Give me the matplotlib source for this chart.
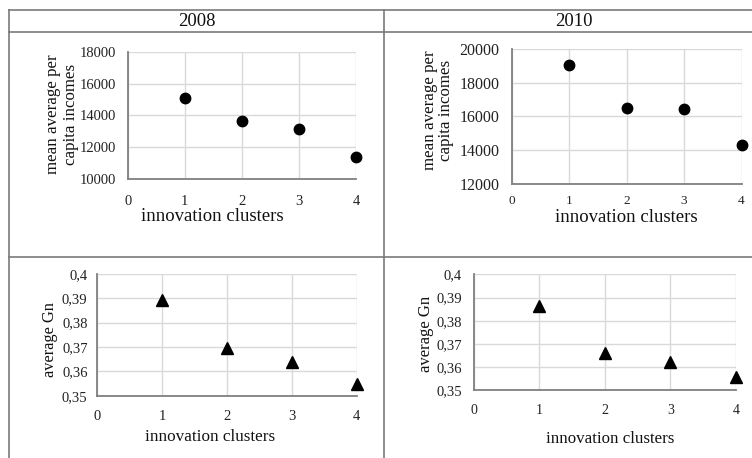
import matplotlib
matplotlib.use("Agg")
import matplotlib.pyplot as plt
from matplotlib.lines import Line2D

# data
clusters = [1, 2, 3, 4]
income_2008 = [15080, 13650, 13120, 11360]
income_2010 = [19050, 16500, 16460, 14310]
gini_2008 = [0.3892, 0.3694, 0.3637, 0.3549]
gini_2010 = [0.3862, 0.3662, 0.3620, 0.3559]
years = ["2008", "2010"]
x_ticks = [0, 1, 2, 3, 4]
income_ticks_2008 = [10000, 12000, 14000, 16000, 18000]
income_ticks_2010 = [12000, 14000, 16000, 18000, 20000]
gini_ticks = [0.35, 0.36, 0.37, 0.38, 0.39, 0.40]
gini_tick_labels = ["0,35", "0,36", "0,37", "0,38", "0,39", "0,4"]

W, H = 752, 458
plt.rcParams['font.family'] = ['Liberation Serif', 'DejaVu Serif']
fig = plt.figure(figsize=(W / 100, H / 100), dpi=100)
fig.patch.set_facecolor('white')

GRID = '#d9d9d9'
SPINE = '#808080'
TABLE = '#7a7a7a'


def fx(x):
    return x / W


def fy(y):
    return 1 - y / H


def panel(left, right, top, bottom):
    return fig.add_axes([fx(left), fy(bottom), fx(right - left), (bottom - top) / H])


def style(ax, ylim, yticks, ylabels, fs_y, fs_x, pad_y, pad_x):
    ax.set_xlim(0, 4)
    ax.set_ylim(*ylim)
    ax.set_xticks(x_ticks)
    ax.set_yticks(yticks)
    ax.set_yticklabels(ylabels)
    ax.grid(True, color=GRID, lw=1.0)
    ax.set_axisbelow(True)
    for s in ['top', 'right']:
        ax.spines[s].set_visible(False)
    for s in ['left', 'bottom']:
        ax.spines[s].set_color(SPINE)
        ax.spines[s].set_linewidth(1.3)
    ax.tick_params(axis='y', length=0, labelsize=fs_y, pad=pad_y, colors='#222222')
    ax.tick_params(axis='x', length=0, labelsize=fs_x, pad=pad_x, colors='#222222')


def label(x, y, s, size, rot=0, ls=1.2):
    fig.text(fx(x), fy(y), s, ha='center', va='center', rotation=rot,
             fontsize=size, linespacing=ls, color='#111111')


# table lines
for (x0, y0, x1, y1) in [(9, 10, 752, 10), (9, 32, 752, 32), (9, 256.7, 752, 256.7),
                         (9, 10, 9, 458), (384.3, 10, 384.3, 458)]:
    fig.add_artist(Line2D([fx(x0), fx(x1)], [fy(y0), fy(y1)], color=TABLE, lw=1.2))

label(197, 21, years[0], 13.5)
label(574, 21, years[1], 13.5)

# 2008 income
ax1 = panel(127.7, 356, 52.3, 178.5)
style(ax1, (10000, 18000), income_ticks_2008, [str(v) for v in income_ticks_2008], 10.5, 10.5, 8, 12)
ax1.plot(clusters, income_2008, 'o', color='black', ms=7.5, clip_on=False)
label(62, 114.5, "mean average per\ncapita incomes", 12.2, 90, 1.15)
label(212.5, 217, "innovation clusters", 13.5)

# 2010 income
ax2 = panel(511.7, 741.5, 49, 183.5)
style(ax2, (12000, 20000), income_ticks_2010, [str(v) for v in income_ticks_2010], 11.5, 9.5, 9, 8)
ax2.plot(clusters, income_2010, 'o', color='black', ms=7.5, clip_on=False)
label(438, 110, "mean average per\ncapita incomes", 12.2, 90, 1.0)
label(626, 218, "innovation clusters", 13.5)

# 2008 Gini
ax3 = panel(97.3, 356.7, 274, 395.7)
style(ax3, (0.35, 0.40), gini_ticks, gini_tick_labels, 10.5, 10.5, 7, 10)
ax3.plot(clusters, gini_2008, '^', color='black', ms=8, clip_on=False)
label(50, 340, "average Gn", 11.8, 90)
label(210.5, 437, "innovation clusters", 12.3)

# 2010 Gini
ax4 = panel(473.7, 736, 274.3, 390.3)
style(ax4, (0.35, 0.40), gini_ticks, gini_tick_labels, 10.5, 10, 8.5, 10)
ax4.plot(clusters, gini_2010, '^', color='black', ms=8, clip_on=False)
label(426, 334, "average Gn", 12, 90)
label(610, 439, "innovation clusters", 12.2)

fig.savefig("out.png", dpi=100, facecolor='white')
